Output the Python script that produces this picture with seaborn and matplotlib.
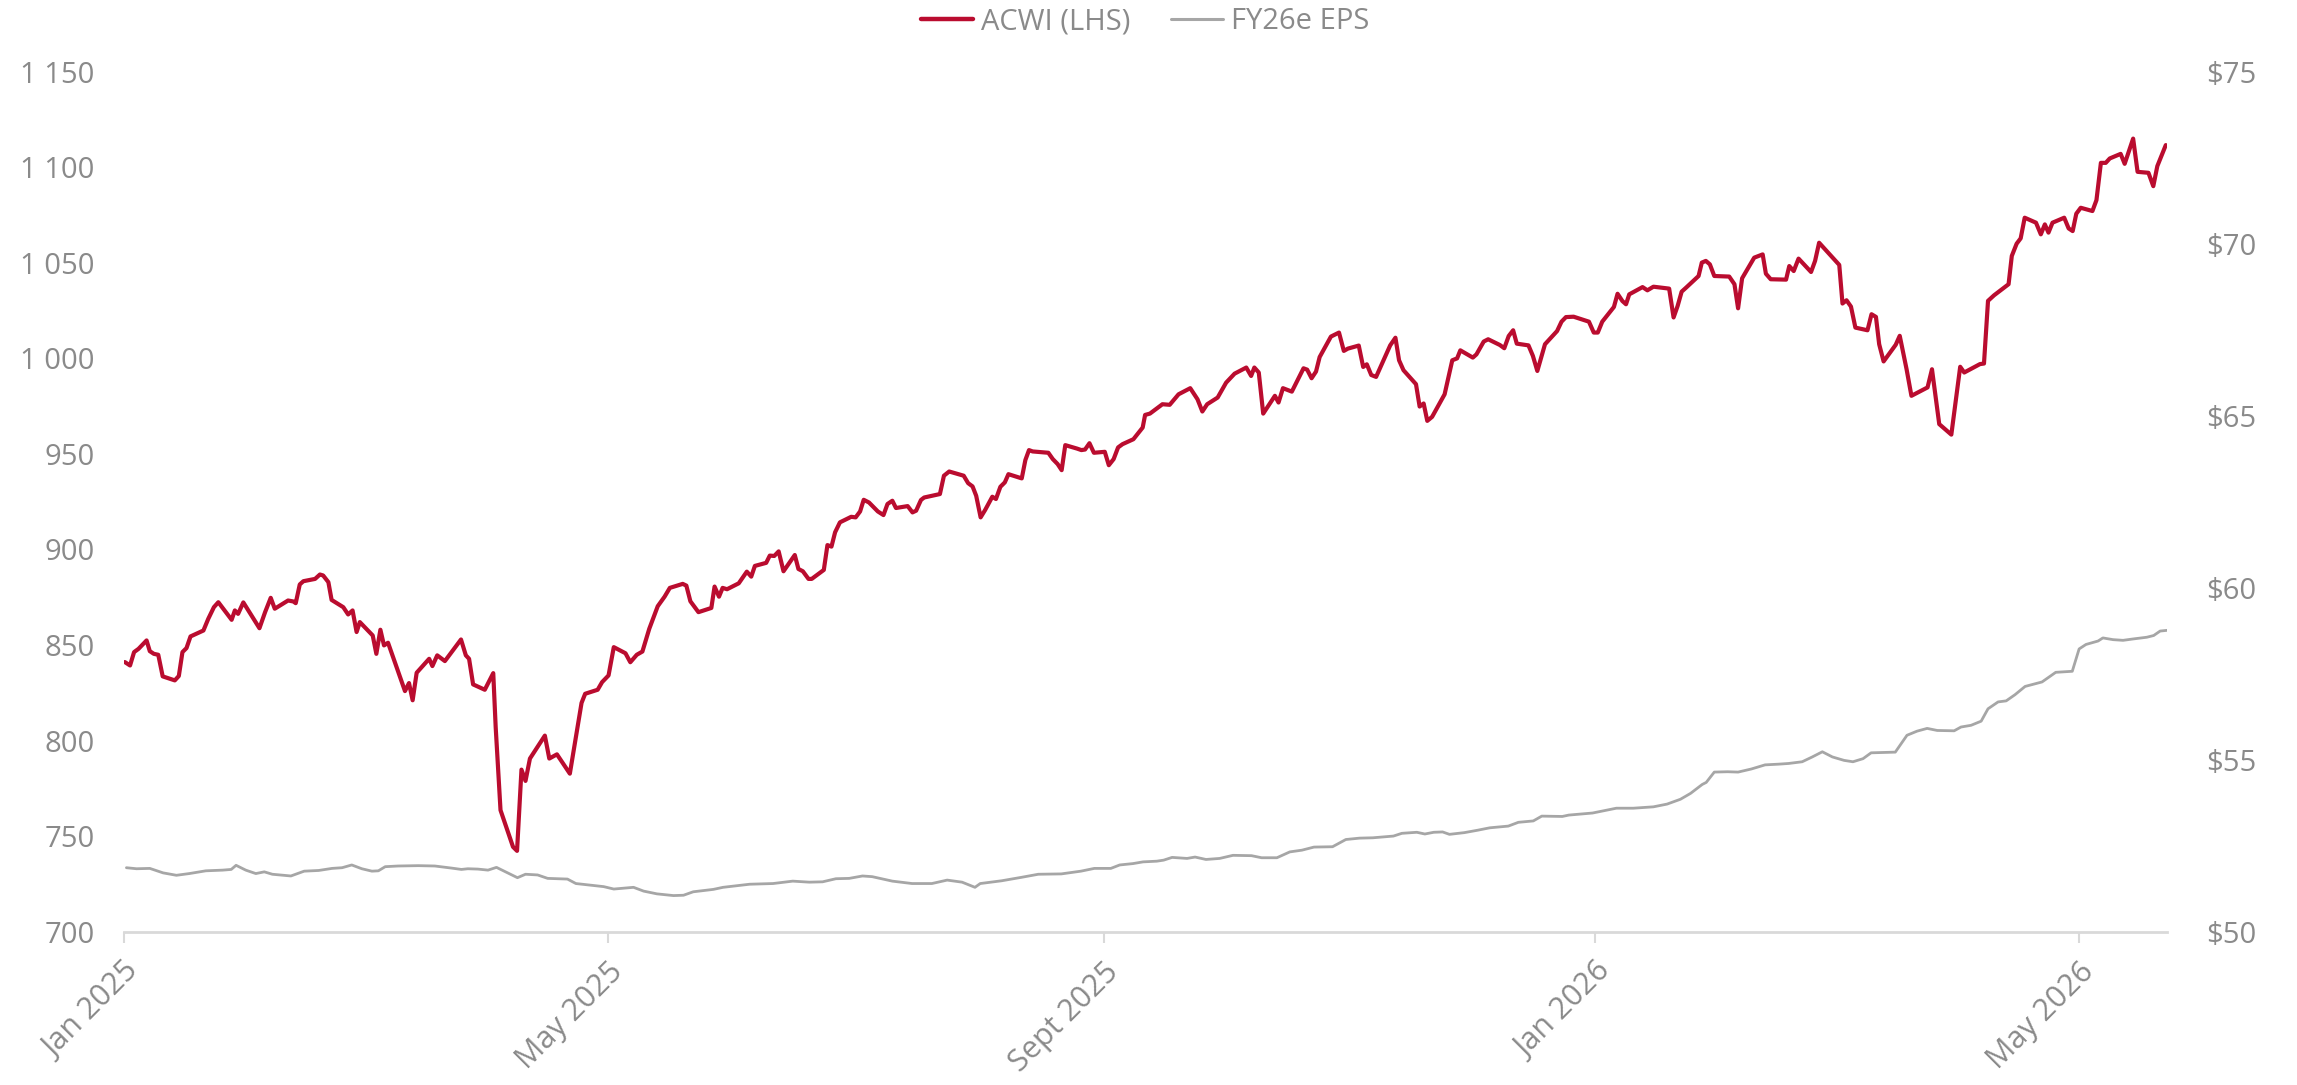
import numpy as np
import pandas as pd
import matplotlib
matplotlib.use("Agg")
import matplotlib.pyplot as plt
import seaborn as sns
from matplotlib.ticker import FuncFormatter
from matplotlib.lines import Line2D

# ---------------- data ----------------
start_date = "2025-01-01"

# ACWI (left axis): day offset from start_date, index level
acwi_day = [0.2, 1.5, 2.5, 3.6, 5.6, 6.4, 7.4, 8.5, 9.6, 12.6, 13.6, 14.5, 15.5, 16.5, 19.7, 20.9,
            22.3, 23.4, 26.7, 27.5, 28.3, 29.6, 33.6, 35.0, 36.4, 37.4, 40.7, 42.0, 42.6, 43.6, 44.5,
            47.4, 48.6, 49.4, 50.7, 51.5, 54.4, 55.6, 56.7, 57.7, 58.5, 61.7, 62.6, 63.6, 64.5, 65.5,
            69.7, 70.7, 71.6, 72.6, 75.7, 76.5, 77.7, 79.6, 83.6, 84.8, 85.6, 86.6, 89.5, 91.6, 92.2,
            93.4, 96.5, 97.5, 98.6, 99.6, 100.7, 104.4, 105.5, 107.4, 110.6, 113.5,
            114.4, 117.5, 118.6, 120.2, 121.5, 124.4, 125.6, 127.2, 128.6, 130.3, 132.4, 134.1, 135.4,
            138.6, 139.5, 140.5, 142.5, 145.7, 146.5, 147.6, 148.5, 149.6, 152.5, 154.5, 155.6, 156.5,
            159.3, 160.2, 161.3, 162.4, 163.6, 166.4, 167.3, 168.4, 169.8, 170.6, 173.6, 174.5, 175.5,
            176.4, 177.6, 180.4, 181.5, 182.6, 183.5, 184.8, 187.0, 188.4, 189.4, 190.6, 191.5, 194.4,
            195.6, 196.5, 197.7, 198.5, 202.4, 203.4, 204.7, 208.3, 209.4, 210.5, 211.4, 212.5, 213.6,
            215.4, 216.3, 217.4, 218.5, 219.4, 222.7, 223.6, 224.5, 225.4, 229.3, 230.4, 231.6, 232.6,
            233.5, 236.4, 237.5, 238.4, 239.5, 240.6, 243.3, 244.3, 245.5, 246.6, 247.7, 250.4,
            252.7, 253.3, 254.5, 257.6, 259.4, 261.6, 264.5, 266.3, 267.5, 268.7, 271.3, 273.4, 275.5,
            278.4, 279.6, 280.4, 281.5, 282.6, 285.5, 286.4, 287.5, 289.7, 292.6, 293.5, 294.6, 295.7,
            296.6, 299.4, 301.4, 302.6, 303.6, 306.3, 307.4, 308.3, 309.4, 310.6, 314.1, 315.4, 316.3,
            317.4, 320.5, 321.4, 322.4, 323.3, 324.5, 327.6, 329.5, 330.7, 331.5, 334.6, 335.5, 337.3,
            338.4, 341.3, 342.4, 343.5, 344.6, 345.5, 348.4, 349.5, 350.6, 352.5, 355.5, 356.6, 357.7,
            359.6, 363.4, 364.6, 365.6, 366.7, 369.6, 370.5, 371.7, 372.6, 373.4, 376.7, 377.9, 379.4,
            383.3, 384.4, 385.4, 386.4, 387.5, 390.6, 391.4, 392.4, 393.4, 394.5, 398.2, 399.5, 400.4,
            401.4, 404.4, 406.5, 407.3, 408.5, 412.3, 413.1, 414.2, 415.4, 418.5, 419.5, 420.5, 425.5,
            426.3, 427.3, 428.4, 429.5, 432.5, 433.5, 434.6, 435.4, 436.5, 439.5, 440.5, 442.2, 443.4,
            447.4, 448.5, 450.3, 453.3, 455.5, 456.5, 460.4, 461.4, 462.4, 463.9, 467.5, 468.3, 469.5,
            470.5, 471.5, 474.3, 475.5, 476.5, 477.4, 478.4, 481.3, 482.4, 483.4, 484.3, 485.4, 488.3,
            489.3, 490.4, 491.6, 492.6, 495.3, 496.3, 498.4, 499.5, 502.2, 503.4, 504.4, 506.5]
acwi_value = [841.1, 839.3, 846.3, 848.0, 852.4, 846.8, 845.4, 844.9, 833.6, 831.5, 833.8, 846.3, 848.4,
              854.5, 857.6, 863.7, 869.8, 872.4, 863.2, 868.1, 866.3, 872.3, 858.8, 867.2, 874.7, 869.0,
              873.3, 872.8, 871.9, 881.7, 883.4, 884.6, 886.9, 886.4, 882.9, 873.6, 869.8, 866.0, 868.1,
              856.8, 862.0, 855.0, 845.4, 858.0, 849.8, 851.2, 825.9, 830.1, 821.1, 835.5, 842.8, 839.0,
              844.6, 841.6, 852.9, 844.6, 842.8, 829.4, 826.6, 835.3, 807.1, 763.6, 744.4, 742.3, 784.8,
              778.9, 790.6, 802.6, 790.6, 792.8, 782.7, 819.7,
              824.5, 826.6, 830.6, 834.1, 848.9, 845.7, 841.0, 844.9, 846.6, 858.5, 870.3, 875.3, 879.9,
              882.0, 881.1, 872.9, 867.2, 869.4, 880.6, 875.3, 879.9, 879.2, 882.3, 888.4, 885.8, 891.4,
              893.0, 896.8, 896.6, 899.0, 888.6, 897.1, 889.8, 888.6, 884.6, 884.6, 889.3, 902.3, 901.5,
              909.0, 914.2, 917.1, 916.8, 919.9, 926.0, 924.6, 919.9, 918.0, 923.8, 925.5, 921.7, 922.7,
              919.4, 920.3, 925.9, 927.2, 929.0, 938.6, 940.8, 938.6, 934.7, 933.0, 928.1, 916.8, 920.6,
              927.6, 926.4, 932.8, 935.1, 939.4, 937.2, 946.8, 952.0, 951.3, 950.6, 947.3, 944.7, 941.5,
              954.6, 952.8, 952.0, 952.3, 955.6, 950.6, 951.1, 944.1, 947.3, 953.4, 955.1, 957.7,
              963.8, 970.4, 971.1, 976.0, 975.7, 981.2, 984.4, 978.6, 972.2, 976.0, 979.5, 987.3, 992.0,
              995.2, 990.8, 995.2, 992.6, 971.1, 980.4, 976.9, 984.4, 982.6, 994.8, 994.1, 989.6, 993.1,
              1000.7, 1011.4, 1013.5, 1003.9, 1005.1, 1006.7, 995.5, 996.9, 991.3, 990.3, 1006.8, 1010.8,
              999.0, 993.8, 986.5, 974.8, 976.4, 967.3, 969.4, 981.2, 999.0, 1000.0, 1004.2, 1000.4,
              1002.1, 1008.8, 1010.0, 1007.0, 1005.3, 1011.7, 1014.7, 1007.7, 1006.8, 1001.3, 993.4,
              1007.4, 1014.3, 1019.2, 1021.6, 1021.8, 1019.2, 1013.5, 1013.5, 1019.2, 1026.9, 1033.8,
              1030.0, 1028.3, 1033.5, 1037.3, 1035.6, 1037.5,
              1036.5, 1021.4, 1027.4, 1034.9, 1037.0, 1043.1, 1050.1, 1051.0, 1049.2, 1043.1, 1042.8,
              1038.8, 1026.2, 1041.9, 1052.7, 1054.4, 1044.3, 1041.4, 1041.2, 1048.3, 1045.7, 1052.2,
              1045.2, 1051.0, 1060.5, 1048.9, 1028.7, 1030.4, 1027.1, 1016.1, 1014.7, 1023.1, 1021.7,
              1007.4, 998.4, 1007.1, 1011.8, 994.3, 980.4, 984.8, 994.3, 965.6, 960.1, 995.6, 992.6,
              997.0, 997.3, 1030.1, 1033.0, 1038.8, 1053.6, 1060.0, 1062.8, 1073.6, 1071.0, 1064.9,
              1070.1, 1065.8, 1071.0, 1073.6, 1068.0, 1066.6, 1075.7, 1078.8, 1077.1, 1082.8, 1102.3,
              1102.3, 1104.6, 1107.0, 1101.8, 1115.0, 1097.6, 1097.1, 1090.1, 1100.6, 1111.6]

# FY26e EPS (right axis): day offset from start_date, USD
eps_day = [0.6, 3.1, 6.4, 9.7, 13.0, 16.2, 20.3, 24.5, 26.6, 27.8, 30.2, 32.7, 34.8, 36.8, 41.4, 44.7,
           48.3, 51.6, 54.1, 56.5, 59.0, 61.5, 63.1, 64.8, 68.0, 73.0, 77.1, 81.2, 83.7, 85.3, 87.8,
           90.3, 92.4, 95.2, 97.6, 99.6, 102.6, 105.1, 110.0, 112.1, 115.8, 119.0, 121.5, 126.4, 128.9,
           132.2, 136.3, 138.8, 141.2, 146.2, 148.6, 155.2, 161.0, 165.9, 170.0, 173.3, 176.6, 179.9,
           183.2, 185.6, 190.6, 195.5, 200.4, 204.2, 207.9, 211.1, 212.4, 217.7, 222.6, 226.8, 232.5,
           237.4, 240.7, 244.8,
           247.0, 250.3, 252.8, 256.2, 257.9, 260.0, 263.7, 265.7, 268.4, 271.8, 275.1, 279.7, 282.2,
           286.0, 289.2, 292.2, 295.2, 299.8, 303.1, 306.5, 309.8, 314.9, 317.0, 320.7, 322.7, 324.9,
           327.1, 328.8, 332.5, 335.8, 338.8, 343.4, 345.9, 349.6, 351.7, 356.8, 358.4, 364.3, 370.2,
           374.4, 379.4, 382.8, 386.1, 388.6, 391.5, 392.5, 394.5, 397.8, 400.4, 403.7, 407.1, 410.4,
           412.9, 416.3, 418.8, 421.3, 423.8, 426.7, 428.9, 431.4, 433.4, 436.4, 439.4, 442.3, 444.8,
           447.3, 449.8, 454.0, 455.7, 458.2, 460.7, 462.4, 464.9, 466.9, 469.1, 471.6, 475.8, 479.2,
           483.3, 485.0, 486.7, 489.7, 490.9, 493.4, 495.9, 498.4, 501.8, 503.5, 505.1, 506.8]
eps_value = [51.86, 51.83, 51.84, 51.71, 51.64, 51.69, 51.77, 51.79, 51.81, 51.93, 51.79, 51.69, 51.74,
             51.67, 51.62, 51.76, 51.78, 51.84, 51.86, 51.94, 51.83, 51.76, 51.77, 51.89, 51.91, 51.92,
             51.91, 51.85, 51.81, 51.83, 51.82, 51.79, 51.87, 51.71, 51.57, 51.67, 51.65, 51.55, 51.53,
             51.40, 51.35, 51.31, 51.24, 51.29, 51.18, 51.10, 51.05, 51.06, 51.16, 51.23, 51.29, 51.38,
             51.40, 51.47, 51.44, 51.45, 51.54, 51.55, 51.62, 51.60, 51.47, 51.40, 51.40, 51.50, 51.44,
             51.29, 51.40, 51.48, 51.58, 51.67, 51.68, 51.76, 51.84, 51.84,
             51.94, 51.98, 52.03, 52.05, 52.08, 52.16, 52.13, 52.17, 52.10, 52.13, 52.22, 52.21, 52.15,
             52.15, 52.32, 52.37, 52.46, 52.47, 52.68, 52.72, 52.73, 52.78, 52.86, 52.89, 52.84, 52.89,
             52.90, 52.83, 52.88, 52.95, 53.02, 53.07, 53.18, 53.22, 53.36, 53.35, 53.39, 53.45, 53.59,
             53.59, 53.63, 53.71, 53.85, 54.02, 54.28, 54.34, 54.64, 54.65, 54.64, 54.73, 54.85, 54.87,
             54.89, 54.94, 55.08, 55.23, 55.08, 54.98, 54.94, 55.03, 55.20, 55.21, 55.22, 55.71, 55.83,
             55.91, 55.85, 55.84, 55.95, 56.00, 56.12, 56.48, 56.68, 56.71, 56.89, 57.13, 57.26, 57.54,
             57.57, 58.22, 58.35, 58.45, 58.54, 58.49, 58.47, 58.51, 58.56, 58.61, 58.74, 58.76]

x_tick_dates = ["2025-01-01", "2025-05-01", "2025-09-01", "2026-01-01", "2026-05-01"]
x_tick_labels = ["Jan 2025", "May 2025", "Sept 2025", "Jan 2026", "May 2026"]
left_ticks = [700, 750, 800, 850, 900, 950, 1000, 1050, 1100, 1150]
right_ticks = [50, 55, 60, 65, 70, 75]
series_names = ["ACWI (LHS)", "FY26e EPS"]

# ---------------- style ----------------
RED = "#BA0C2F"
GREY_LINE = "#a6a6a6"
TEXT = "#8a8a8a"
AXIS = "#d9d9d9"

sns.set_theme(style="white")
plt.rcParams["font.family"] = ["Open Sans", "DejaVu Sans"]

start = pd.Timestamp(start_date)
acwi = pd.DataFrame({"date": start + pd.to_timedelta(acwi_day, unit="D"), "value": acwi_value})
eps = pd.DataFrame({"date": start + pd.to_timedelta(eps_day, unit="D"), "value": eps_value})

fig = plt.figure(figsize=(22.97, 10.85), dpi=100)
ax = fig.add_axes([124 / 2297, 1 - 931.7 / 1085, (2167 - 124) / 2297, (931.7 - 71.7) / 1085])
ax2 = ax.twinx()

sns.lineplot(data=eps, x="date", y="value", ax=ax2, color=GREY_LINE, linewidth=2.0,
             estimator=None, sort=False, legend=False)
sns.lineplot(data=acwi, x="date", y="value", ax=ax, color=RED, linewidth=3.0,
             estimator=None, sort=False, legend=False)

ax.set_zorder(ax2.get_zorder() + 1)
ax.patch.set_visible(False)

ax.set_xlim(start, start + pd.Timedelta(days=506.8))
ax.set_ylim(700, 1150)
ax2.set_ylim(50, 75)

ax.set_yticks(left_ticks)
ax.yaxis.set_major_formatter(FuncFormatter(lambda v, p: f"{int(v):,}".replace(",", " ")))
ax2.set_yticks(right_ticks)
ax2.yaxis.set_major_formatter(FuncFormatter(lambda v, p: f"${int(v)}"))

ax.set_xticks(pd.to_datetime(x_tick_dates))
ax.set_xticklabels(x_tick_labels, rotation=45, ha="right", va="top", rotation_mode="anchor")

for a in (ax, ax2):
    a.set_xlabel("")
    a.set_ylabel("")
    a.grid(False)
    for s in ("left", "right", "top"):
        a.spines[s].set_visible(False)
ax2.spines["bottom"].set_visible(False)
ax.spines["bottom"].set_color(AXIS)
ax.spines["bottom"].set_linewidth(2)

ax.tick_params(axis="x", length=8, width=1.5, color=AXIS, direction="out", pad=10,
               labelsize=22, labelcolor=TEXT, bottom=True)
ax.tick_params(axis="y", length=0, pad=21, labelsize=21, labelcolor=TEXT)
ax2.tick_params(axis="y", length=0, pad=28, labelsize=21, labelcolor=TEXT)

handles = [Line2D([], [], color=RED, linewidth=3.2), Line2D([], [], color=GREY_LINE, linewidth=2.2)]
fig.legend(handles, series_names, loc="center", bbox_to_anchor=(1145 / 2297, 1 - 21.7 / 1085),
           ncol=2, frameon=False, fontsize=21, handlelength=1.8, handletextpad=0.25,
           columnspacing=1.4, labelcolor=TEXT)

fig.savefig("out.png", dpi=100, facecolor="white")
